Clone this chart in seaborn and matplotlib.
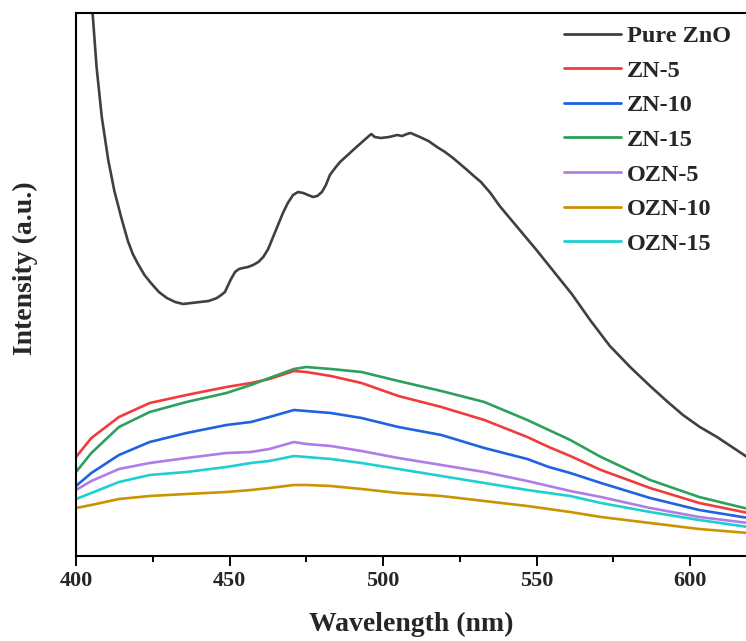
import numpy as np
import pandas as pd
import matplotlib
matplotlib.use("Agg")
import matplotlib.pyplot as plt
import seaborn as sns

# Photoluminescence spectra (arbitrary intensity units)
pure_wl = [400, 402.5, 405.4, 406.7, 408.4, 410.5, 412.5, 414.7, 416.9, 418.5,
           420.2, 422.3, 424.4, 427, 429.6, 432.3, 434.9, 437.6, 440.4, 443.2,
           445.9, 447.3, 448.5, 450.5, 451.8, 453.1, 454.4, 456, 457.7, 459.4,
           461, 462.6, 464.2, 465.8, 467.4, 469, 470.7, 472.3, 474, 475.6,
           477.2, 478.6, 480.1, 481.4, 482.7, 484.4, 486, 488.5, 491, 493.2,
           495.4, 496.2, 497.3, 499.3, 502, 504.6, 506.2, 507.8, 509, 512,
           514.8, 517.6, 520.2, 522.8, 525.1, 527.4, 529.6, 531.9, 535, 538,
           544, 550, 556, 561.5, 567.7, 573.9, 580.5, 587, 592.4, 597.7,
           603.2, 608.8, 613.7, 618.6]
pure_zno = [800, 665, 543, 489, 439, 396, 365, 339, 315, 302,
            292, 281, 273, 264, 258, 254, 252, 253, 254, 255,
            258, 261, 264, 277, 284, 287, 288, 289, 291, 294,
            299, 307, 319, 331, 343, 353, 361, 364, 363, 361,
            359, 360, 364, 371, 381, 388, 394, 401, 408, 414,
            420, 422, 419, 418, 419, 421, 420, 422, 423, 419,
            415, 409, 404, 398, 392, 386, 380, 374, 363, 350,
            328, 306, 283, 262, 235, 210, 189, 170, 155, 141,
            129, 119, 109, 99]

wl = [400, 405, 414, 424, 436, 449, 457, 463, 471, 475, 483, 493, 505, 519,
      533, 547, 554, 561, 571, 587, 603, 619]
zn_5 = [99, 118, 139, 153, 161, 169, 173, 177, 185, 184, 180, 173, 160, 149,
        136, 119, 109, 100, 86, 68, 53, 43]
zn_10 = [70, 83, 101, 114, 123, 131, 134, 139, 146, 145, 143, 138, 129, 121,
         108, 97, 89, 83, 73, 58, 46, 38]
zn_15 = [84, 103, 129, 144, 154, 163, 171, 178, 187, 189, 187, 184, 175, 165,
         154, 136, 126, 116, 99, 76, 59, 47]
ozn_5 = [66, 75, 87, 93, 98, 103, 104, 107, 114, 112, 110, 105, 98, 91,
         84, 75, 70, 65, 59, 48, 39, 33]
ozn_10 = [48, 51, 57, 60, 62, 64, 66, 68, 71, 71, 70, 67, 63, 60,
          55, 50, 47, 44, 39, 33, 27, 23]
ozn_15 = [57, 63, 74, 81, 84, 89, 93, 95, 100, 99, 97, 93, 87, 80,
          73, 66, 63, 60, 53, 44, 36, 29]

samples = ["Pure ZnO", "ZN-5", "ZN-10", "ZN-15", "OZN-5", "OZN-10", "OZN-15"]
colors = ["#404040", "#F03C3C", "#1F63E0", "#2CA05C", "#B07CE8", "#CC9300", "#1ECFCF"]

frames = [pd.DataFrame({"Wavelength": pure_wl, "Intensity": pure_zno, "Sample": "Pure ZnO"})]
for name, vals in zip(samples[1:], [zn_5, zn_10, zn_15, ozn_5, ozn_10, ozn_15]):
    frames.append(pd.DataFrame({"Wavelength": wl, "Intensity": vals, "Sample": name}))
df = pd.concat(frames, ignore_index=True)

sns.set_theme(style="white")
plt.rcParams["font.family"] = ["Liberation Serif", "DejaVu Serif"]
plt.rcParams["font.weight"] = "bold"

fig = plt.figure(figsize=(7.46, 6.41), dpi=100)
ax = fig.add_axes([76 / 746, 85 / 641, 0.9, 543 / 641])

sns.lineplot(data=df, x="Wavelength", y="Intensity", hue="Sample",
             hue_order=samples, palette=colors, estimator=None, sort=True,
             linewidth=1.9, ax=ax)

px_per_nm = 3.07
ax.set_xlim(400, 400 + 0.9 * 746 / px_per_nm)
ax.set_ylim(0, 543)
ax.set_xticks([400, 450, 500, 550, 600])
ax.set_xticks([425, 475, 525, 575], minor=True)
ax.set_yticks([])
ax.tick_params(axis="x", which="major", direction="out", length=7.5, width=1.4,
               pad=3, labelsize=16, bottom=True, color="black")
ax.tick_params(axis="x", which="minor", direction="out", length=4.5, width=1.4,
               bottom=True, color="black")
for lab in ax.get_xticklabels():
    lab.set_fontweight("bold")

for side in ["left", "bottom", "top"]:
    ax.spines[side].set_visible(True)
    ax.spines[side].set_color("black")
    ax.spines[side].set_linewidth(1.5)
ax.spines["right"].set_visible(False)

ax.set_xlabel("Wavelength (nm)", fontsize=20, fontweight="bold", labelpad=15)
ax.set_ylabel("Intensity (a.u.)", fontsize=20, fontweight="bold")
ax.yaxis.set_label_coords(-38 / 671.4, 0.53)

handles, labels = ax.get_legend_handles_labels()
for h in handles:
    h.set_linewidth(2.0)
ax.legend(handles, labels, loc="upper left",
          bbox_to_anchor=(564 / 746, 1 - 25 / 641), bbox_transform=fig.transFigure,
          frameon=False, prop={"weight": "bold", "size": 17.5},
          handlelength=2.35, handletextpad=0.25, labelspacing=0.52,
          borderpad=0, borderaxespad=0)

fig.savefig("out.png", dpi=100)
